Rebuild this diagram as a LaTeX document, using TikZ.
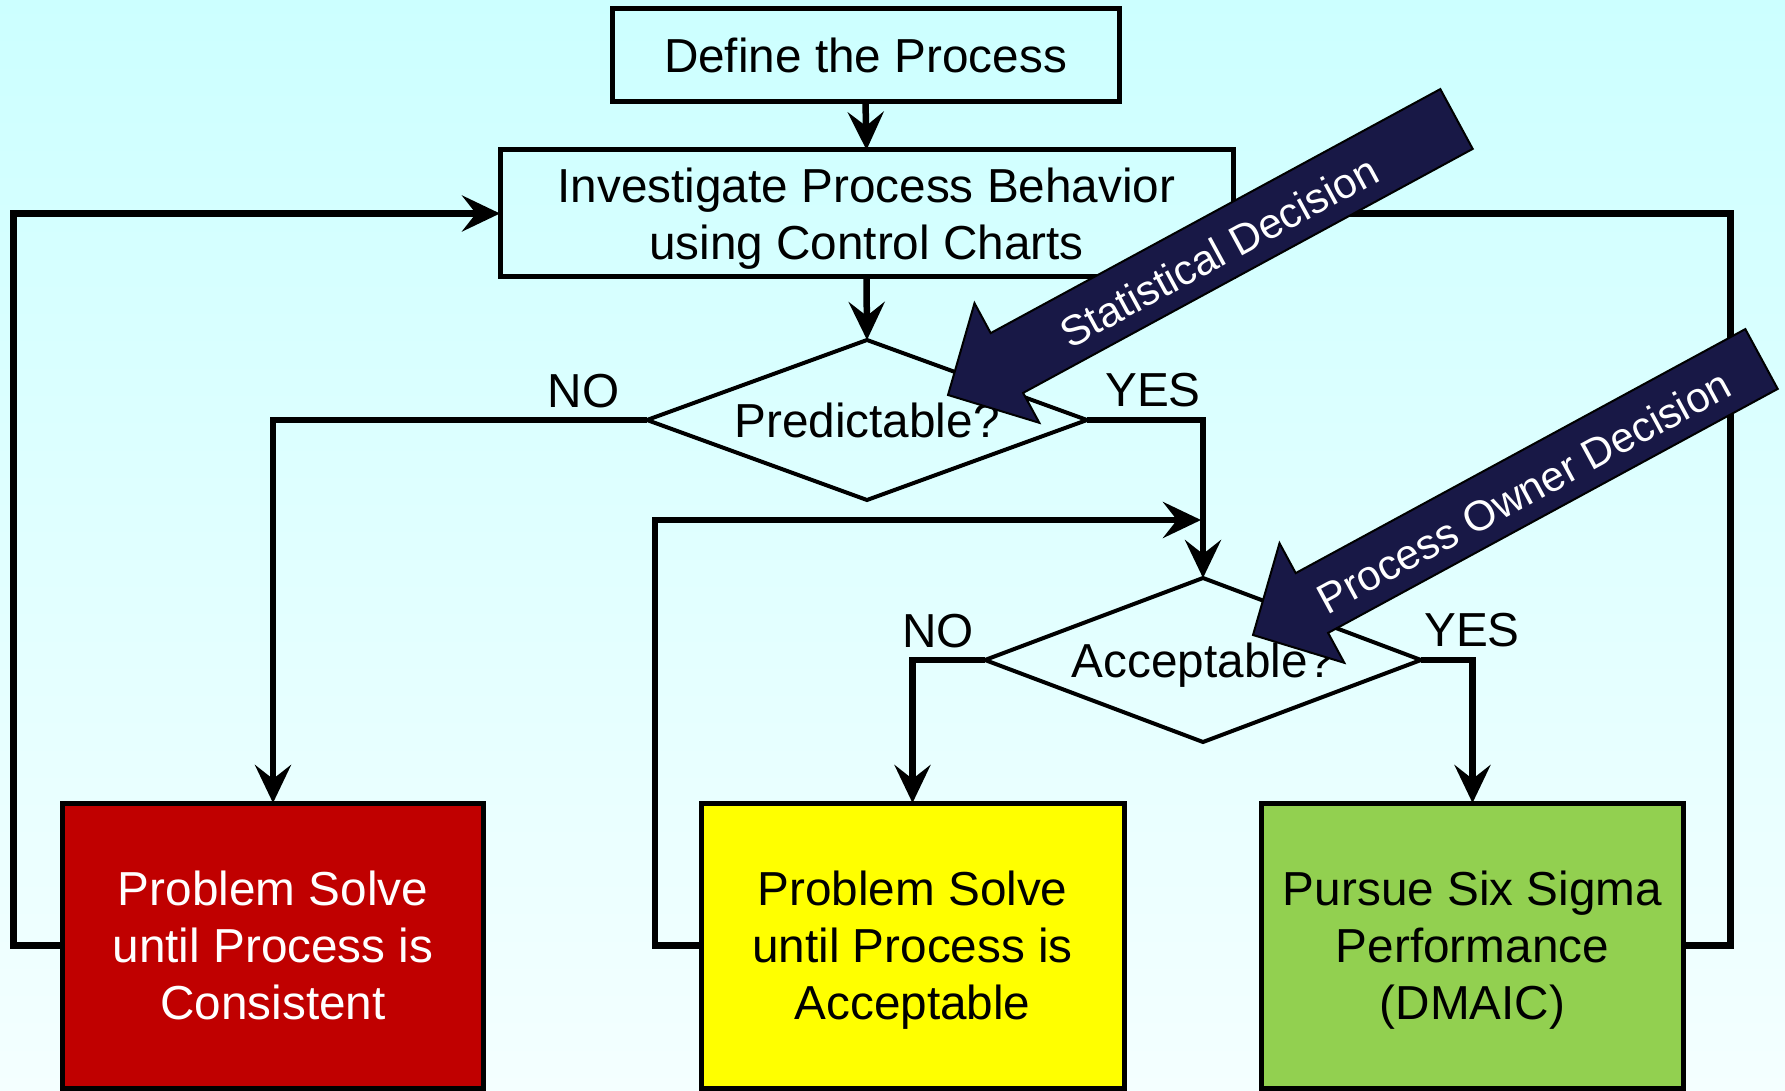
\documentclass[tikz,border=0pt]{standalone}
\usepackage{fontspec}
\setmainfont{Liberation Sans}
\usetikzlibrary{shapes.geometric,arrows.meta}

\definecolor{bgtop}{RGB}{204,255,255}
\definecolor{bgbot}{RGB}{244,255,255}
\definecolor{redbox}{RGB}{192,0,0}
\definecolor{yelbox}{RGB}{255,255,0}
\definecolor{grnbox}{RGB}{146,208,80}
\definecolor{navyarrow}{RGB}{24,24,70}

\tikzset{
  mainfont/.style={font=\fontsize{47.7}{57}\selectfont},
  procbox/.style={draw=black, line width=5pt, inner sep=0pt, outer sep=0pt,
    align=center, text depth=0pt, mainfont},
  decision/.style={diamond, draw=black, line width=4pt, inner sep=0pt,
    outer sep=0pt, aspect=2.75, text depth=0pt, mainfont},
  flow/.style={line width=6.5pt, -{Stealth[length=38pt,width=36pt,inset=14pt]}},
  link/.style={line width=6.5pt},
  branchlabel/.style={inner sep=0pt, mainfont},
  callout/.style={fill=navyarrow, draw=black, line width=2pt, line join=miter},
  callouttext/.style={text=white, inner sep=0pt, rotate=28.5,
    font=\fontsize{42.3}{50}\selectfont}
}

\begin{document}
\begin{tikzpicture}[x={(1pt,0pt)}, y={(0pt,-1pt)}]
  % canvas with soft cyan gradient
  \useasboundingbox (0,0) rectangle (1785,1091);
  \shade[top color=bgtop, bottom color=bgbot] (0,0) rectangle (1785,1091);

  % process steps
  \node[procbox, minimum width=507pt, minimum height=93pt] (def) at (865.5,55.5)
    {Define the Process};
  \node[procbox, minimum width=733pt, minimum height=127pt] (inv) at (866.5,213.5)
    {Investigate Process Behavior\\using Control Charts};

  % decisions
  \node[decision, minimum width=440pt, minimum height=160pt] (pred) at (867,420)
    {Predictable?};
  \node[decision, minimum width=436pt, minimum height=164pt] (acc) at (1203,660)
    {Acceptable?};

  % outcomes
  \node[procbox, fill=redbox, text=white, minimum width=421pt, minimum height=285pt]
    (red) at (273,945.5) {Problem Solve\\until Process is\\Consistent};
  \node[procbox, fill=yelbox, minimum width=423pt, minimum height=285pt]
    (yel) at (912.5,945.5) {Problem Solve\\until Process is\\Acceptable};
  \node[procbox, fill=grnbox, minimum width=422pt, minimum height=285pt]
    (grn) at (1472.5,945.5) {Pursue Six Sigma\\Performance\\(DMAIC)};

  % main flow
  \draw[flow] (def.south) -- (inv.north);
  \draw[flow] (inv.south) -- (pred.north);
  \draw[flow] (pred.west) -| (red.north);
  \draw[flow] (pred.east) -| (acc.north);
  \draw[flow] (acc.west) -| (yel.north);
  \draw[flow] (acc.east) -| (grn.north);

  % feedback loops
  \coordinate (merge) at (1201,520);
  \draw[flow] (yel.west) -- ++(-46,0) |- (merge);
  \draw[flow] (red.west) -- ++(-49,0) |- (inv.west);
  \draw[link] (grn.east) -- ++(47,0) |- (inv.east);

  % branch labels
  \node[branchlabel] (no1) at (583.5,391) {NO};
  \node[branchlabel] (yes1) at (1153,390) {YES};
  \node[branchlabel] (no2) at (938,631) {NO};
  \node[branchlabel] (yes2) at (1472,630) {YES};

  % decision-type callout arrows
  \draw[callout] (1440.3,89.1) -- (990.7,333.1) -- (974.5,303.2) -- (948,395)
    -- (1039.3,422.8) -- (1023.1,392.9) -- (1472.7,148.9) -- cycle;
  \node[callouttext] (stat) at (1218.8,251.3) {Statistical Decision};

  \begin{scope}[shift={(305,240)}]
    \draw[callout] (1440.3,89.1) -- (990.7,333.1) -- (974.5,303.2) -- (948,395)
      -- (1039.3,422.8) -- (1023.1,392.9) -- (1472.7,148.9) -- cycle;
  \end{scope}
  \node[callouttext] (owner) at (1523.8,491.3) {Process Owner Decision};
\end{tikzpicture}
\end{document}
